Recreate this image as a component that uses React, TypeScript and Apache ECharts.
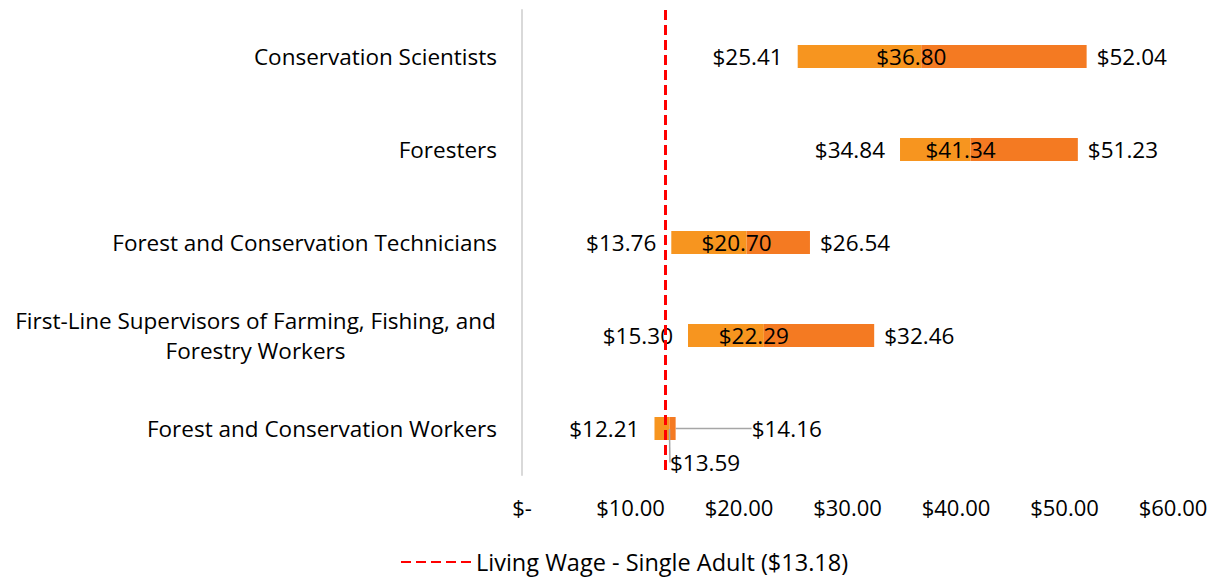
import React, { useEffect, useRef } from "react";
import * as echarts from "echarts";

const categories = [
  "Conservation Scientists",
  "Foresters",
  "Forest and Conservation Technicians",
  "First-Line Supervisors of Farming, Fishing, and\nForestry Workers",
  "Forest and Conservation Workers",
];
const minWage = [25.41, 34.84, 13.76, 15.3, 12.21];
const medianWage = [36.8, 41.34, 20.7, 22.29, 13.59];
const maxWage = [52.04, 51.23, 26.54, 32.46, 14.16];
const livingWage = 13.18;
const livingWageName = "Living Wage - Single Adult ($13.18)";
const xTicks = { min: 0, max: 60, interval: 10 };

const FONT = "'Open Sans', 'Noto Sans', sans-serif";
const FS = 22.5;
const money = (v: number) => "$" + v.toFixed(2);

function measure(text: string, size: number) {
  const c = document.createElement("canvas").getContext("2d");
  if (!c) return text.length * size * 0.55;
  c.font = size + "px 'Open Sans'";
  return c.measureText(text).width;
}

export default function App() {
  const ref = useRef<HTMLDivElement>(null);
  useEffect(() => {
    if (!ref.current) return;
    const chart = echarts.init(ref.current, undefined, { renderer: "svg" });
    const lastIdx = categories.length - 1;
    const multi = categories.find((c) => c.indexOf("\n") >= 0) || "";
    const multiWidth = Math.ceil(Math.max(...multi.split("\n").map((l) => measure(l, FS)))) + 2;
    const leader = { show: true, lineStyle: { color: "#a6a6a6", width: 1.5 } };
    const option: any = {
      animation: false,
      textStyle: { fontFamily: FONT, color: "#000" },
      grid: { left: 522, right: 42, top: 10, bottom: 102, containLabel: false },
      legend: {
        bottom: 3,
        left: 395,
        padding: [0, 5, 0, 5],
        data: [livingWageName],
        itemWidth: 70,
        itemHeight: 14,
        itemStyle: { opacity: 0 },
        textStyle: { fontFamily: FONT, fontSize: 23.5, color: "#000", lineHeight: 24 },
      },
      xAxis: {
        type: "value",
        min: xTicks.min,
        max: xTicks.max,
        interval: xTicks.interval,
        axisLine: { show: false },
        axisTick: { show: false },
        splitLine: { show: false },
        axisLabel: {
          fontFamily: FONT,
          fontSize: 22,
          color: "#000",
          margin: 21,
          formatter: (v: number) => (v === 0 ? "$-" : money(v)),
        },
      },
      yAxis: {
        type: "category",
        data: categories,
        inverse: true,
        axisLine: { show: true, lineStyle: { color: "#d9d9d9", width: 2 } },
        axisTick: { show: false },
        axisLabel: {
          fontFamily: FONT,
          fontSize: FS,
          color: "#000",
          margin: 25,
          formatter: (v: string) => {
            if (v.indexOf("\n") >= 0) {
              return v
                .split("\n")
                .map((p) => "{c|" + p + "}")
                .join("\n");
            }
            return v;
          },
          rich: {
            c: { width: multiWidth, align: "center", fontFamily: FONT, fontSize: FS, color: "#000", lineHeight: 30 },
          },
        },
      },
      series: [
        {
          type: "bar",
          stack: "w",
          silent: true,
          barWidth: 23,
          itemStyle: { color: "transparent" },
          data: minWage,
        },
        {
          type: "bar",
          stack: "w",
          barWidth: 23,
          itemStyle: { color: "#F7951F" },
          data: medianWage.map((m, i) => +(m - minWage[i]).toFixed(2)),
          label: {
            show: true,
            position: "left",
            distance: 15,
            fontFamily: FONT,
            fontSize: FS,
            color: "#000",
            formatter: (p: any) => money(minWage[p.dataIndex]),
          },
        },
        {
          type: "bar",
          stack: "w",
          barWidth: 23,
          itemStyle: { color: "#F47A22" },
          data: maxWage.map((m, i) => {
            const v = +(m - medianWage[i]).toFixed(2);
            return i === lastIdx ? { value: v, labelLine: leader } : v;
          }),
          label: {
            show: true,
            position: "right",
            distance: 10,
            fontFamily: FONT,
            fontSize: FS,
            color: "#000",
            formatter: (p: any) => money(maxWage[p.dataIndex]),
          },
          labelLayout: (p: any) => (p.dataIndex === lastIdx ? { dx: 66 } : {}),
        },
        {
          type: "scatter",
          symbolSize: 1,
          itemStyle: { color: "rgba(0,0,0,0)" },
          data: medianWage.map((m, i) =>
            i === lastIdx
              ? {
                  value: [m, categories[i]],
                  labelLine: leader,
                  label: { position: "right", distance: 0, color: "#000", opacity: 1 },
                }
              : [m, categories[i]]
          ),
          label: {
            show: true,
            position: "inside",
            fontFamily: FONT,
            fontSize: FS,
            color: "#000",
            opacity: 1,
            formatter: (p: any) => money(medianWage[p.dataIndex]),
          },
          labelLayout: (p: any) => (p.dataIndex === lastIdx ? { dx: 0, dy: 34 } : { dx: -10 }),
          z: 5,
        },
        {
          name: livingWageName,
          type: "line",
          symbol: "none",
          data: [],
          lineStyle: { color: "#ff0000", width: 3.5, type: [10, 5] },
          itemStyle: { color: "#ff0000" },
          markLine: {
            silent: true,
            symbol: "none",
            label: { show: false },
            lineStyle: { color: "#ff0000", width: 3, type: [10, 5] },
            data: [{ xAxis: livingWage }],
          },
          z: 10,
        },
      ],
    };
    chart.setOption(option);
    return () => chart.dispose();
  }, []);
  return (
    <div
      ref={ref}
      style={{ position: "fixed", left: 0, top: 0, width: 1215, height: 577, background: "#fff" }}
    />
  );
}
